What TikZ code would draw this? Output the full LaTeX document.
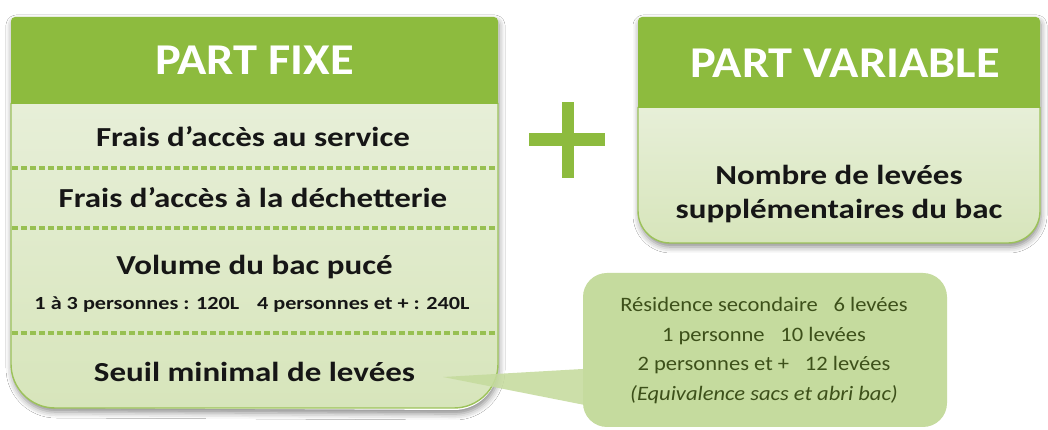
\documentclass[tikz,border=0pt]{standalone}
\usepackage{graphicx}
\usepackage{fontspec}
\setmainfont{Carlito}
\usetikzlibrary{shadows.blur}
\definecolor{hdr}{HTML}{8DBB3E}
\definecolor{bodytop}{HTML}{E7EFD8}
\definecolor{bodybot}{HTML}{D7E5BB}
\definecolor{edge}{HTML}{9CC25A}
\definecolor{dots}{HTML}{98C052}
\definecolor{callfill}{HTML}{C5DB9E}
\definecolor{calltext}{HTML}{3D501A}
\definecolor{ink}{HTML}{161616}
\newcommand{\wideA}[1]{\scalebox{1.2}[1]{#1}}
\newcommand{\wideB}[1]{\scalebox{1.1}[1]{#1}}
\tikzset{
  boxshadow/.style={blur shadow={shadow xshift=1pt,shadow yshift=-4pt,shadow blur radius=6pt,shadow opacity=45}},
  bodyfill/.style={top color=bodytop,bottom color=bodybot,draw=edge,line width=1.4pt},
  hdrfill/.style={fill=hdr},
  title/.style={text=white,font=\bfseries\fontsize{44}{50}\selectfont,inner sep=0pt},
  item/.style={text=ink,font=\bfseries\fontsize{27.5}{30}\selectfont,inner sep=0pt},
  small/.style={text=ink,font=\bfseries\fontsize{18.5}{20}\selectfont,inner sep=0pt},
  calltxt/.style={text=calltext,font=\fontsize{20.5}{29.5}\selectfont,inner sep=0pt},
  dotline/.style={draw=dots,line width=4pt,dash pattern=on 5.5pt off 3.5pt},
  plusbar/.style={fill=hdr}
}
\begin{document}
\begin{tikzpicture}[x=1pt,y=1pt]
\useasboundingbox (0,0) rectangle (1048,430);
\fill[white] (0,0) rectangle (1048,430);

% ---------- left box ----------
\path[boxshadow,fill=white] (11,327) -- (11,409) arc[start angle=180,end angle=90,radius=4] -- (494,413) arc[start angle=90,end angle=0,radius=4] -- (498,64) arc[start angle=0,end angle=-90,radius=44] -- (55,22) arc[start angle=270,end angle=180,radius=44] -- cycle;
\path[bodyfill] (11,327) -- (11,66) arc[start angle=180,end angle=270,radius=44] -- (454,22) arc[start angle=270,end angle=360,radius=44] -- (498,327);
\fill[hdrfill] (11,326) -- (11,409) arc[start angle=180,end angle=90,radius=4] -- (494,413) arc[start angle=90,end angle=0,radius=4] -- (498,326) -- cycle;

\coordinate (l1a) at (12,262); \coordinate (l1b) at (497,262);
\coordinate (l2a) at (12,202); \coordinate (l2b) at (497,202);
\coordinate (l3a) at (12,97);  \coordinate (l3b) at (497,97);
\draw[dotline] (l1a) -- (l1b);
\draw[dotline] (l2a) -- (l2b);
\draw[dotline] (l3a) -- (l3b);

\node[title] (tfixe) at (254.5,370) {\wideB{PART FIXE}};
\node[item] (acces) at (253,293) {\wideA{Frais d’accès au service}};
\node[item] (dechet) at (253,232) {\wideA{Frais d’accès à la déchetterie}};
\node[item] (volume) at (254.5,163) {\wideA{Volume du bac pucé}};
\node[small] (vdetail) at (252,125) {\wideA{1 à 3 personnes : 120L\hspace{0.8em}4 personnes et + : 240L}};
\node[item] (seuil) at (254.5,58) {\wideA{Seuil minimal de levées}};

% ---------- plus sign ----------
\fill[plusbar] (529,284) rectangle (605,297);
\fill[plusbar] (561.5,252) rectangle (573.5,328);

% ---------- right box ----------
\path[boxshadow,fill=white] (638,323) -- (638,409) arc[start angle=180,end angle=90,radius=4] -- (1036,413) arc[start angle=90,end angle=0,radius=4] -- (1040,219) arc[start angle=0,end angle=-90,radius=32] -- (670,187) arc[start angle=270,end angle=180,radius=32] -- cycle;
\path[bodyfill] (638,323) -- (638,219) arc[start angle=180,end angle=270,radius=32] -- (1008,187) arc[start angle=270,end angle=360,radius=32] -- (1040,323);
\fill[hdrfill] (638,322) -- (638,409) arc[start angle=180,end angle=90,radius=4] -- (1036,413) arc[start angle=90,end angle=0,radius=4] -- (1040,322) -- cycle;

\node[title] (tvar) at (845,367) {\wideB{PART VARIABLE}};
\node[item] (nombre) at (839,255) {\wideA{Nombre de levées}};
\node[item] (supp) at (839,219) {\wideA{supplémentaires du bac}};

% ---------- callout ----------
\fill[callfill,rounded corners=24pt] (583,3) rectangle (947,157);
\coordinate (tip) at (443,53);
\fill[callfill,fill opacity=0.88] (tip) -- (600,62) -- (600,22) -- cycle;
\node[calltxt] (cdetail) at (764,80) {\wideB{\begin{tabular}{@{}c@{}}Résidence secondaire\hspace{0.7em}6 levées\\1 personne\hspace{0.7em}10 levées\\2 personnes et +\hspace{0.7em}12 levées\\\textit{(Equivalence sacs et abri bac)}\end{tabular}}};
\end{tikzpicture}
\end{document}
